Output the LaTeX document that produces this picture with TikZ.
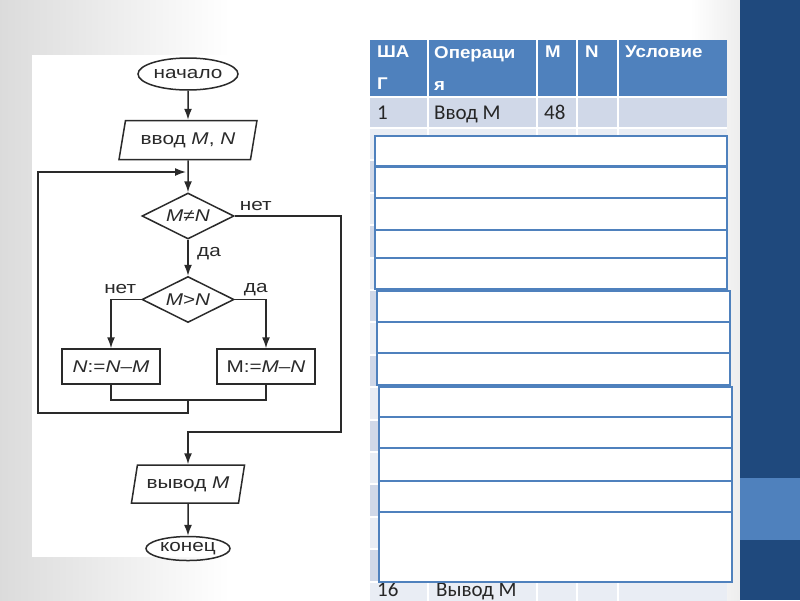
\documentclass[tikz,border=0pt]{standalone}
\usepackage{fontspec}
\setmainfont{Liberation Sans}
\newfontfamily\chartfont[FakeStretch=1.22]{Liberation Sans}
\newfontfamily\headfont[FakeStretch=1.1]{Liberation Sans}
\newfontfamily\tabfont{Carlito}
\usetikzlibrary{arrows.meta,positioning,shapes.geometric}
\definecolor{slideblue}{HTML}{1F497D}
\definecolor{accblue}{HTML}{4F81BD}
\definecolor{rowdark}{HTML}{D0D8E8}
\definecolor{rowlight}{HTML}{E9EDF4}
\definecolor{ink}{HTML}{2A2A2A}

\begin{document}
\begin{tikzpicture}[
      x=1pt,y=-1pt,
      >={Latex[length=11pt,width=8pt]},
      line/.style={draw=ink,line width=1.5pt},
      chart/.style={font=\chartfont\fontsize{17}{20}\selectfont,text=ink},
      term/.style={ellipse,line,chart,inner sep=0pt},
      io/.style={trapezium,trapezium left angle=72,trapezium right angle=108,
        trapezium stretches=true,line,chart,inner sep=0pt},
      cond/.style={diamond,aspect=2.2,line,chart,inner sep=0pt,minimum width=92pt,minimum height=46pt},
      proc/.style={rectangle,line,chart,inner sep=0pt,minimum width=98pt,minimum height=35pt},
      lbl/.style={chart,inner sep=0pt},
      hdr/.style={anchor=north west,inner sep=0pt,align=left,text=white,
        font=\headfont\bfseries\fontsize{17}{32}\selectfont},
      cell/.style={anchor=base west,inner sep=0pt,text=black!85,
        font=\tabfont\fontsize{21}{24}\selectfont},
      cover/.style={draw=accblue,fill=white,line width=1.2pt},
    ]
    \useasboundingbox (0,0) rectangle (800,600);
    % slide background
    \fill[white] (0,0) rectangle (800,600);
    \shade[left color=gray!28,right color=white] (0,0) rectangle (230,600);
    \shade[left color=white,right color=gray!14] (690,0) rectangle (740,600);
    \fill[slideblue] (740,0) rectangle (800,600);
    \fill[accblue] (740,478) rectangle (800,540);
    \fill[white] (32,55) rectangle (360,557);
    %
    % flowchart
    \node (start) [term,minimum width=100pt,minimum height=32pt] at (188,74) {начало};
    \node (in) [io,minimum width=138pt,minimum height=39pt,below=29pt of start]
      {ввод {\itshape M}, {\itshape N}};
    \node (dec1) [cond,below=32pt of in] {{\itshape M}≠{\itshape N}};
    \node (dec2) [cond,below=36pt of dec1] {{\itshape M}>{\itshape N}};
    \node (boxL) [proc,below=25pt of dec2,xshift=-77pt]
      {{\itshape N}:={\itshape N}–{\itshape M}};
    \node (boxR) [proc,below=25pt of dec2,xshift=78pt]
      {M:={\itshape M}–{\itshape N}};
    \node (out) [io,minimum width=114pt,minimum height=38pt,below=141pt of dec2]
      {вывод {\itshape M}};
    \node (end) [term,minimum width=84pt,minimum height=24pt,below=32pt of out] {конец};
    %
    \node (no1) [lbl,above right=5pt and 5pt of dec1.east] {нет};
    \node (yes1) [lbl,below right=7pt and 9pt of dec1.south] {да};
    \node (no2) [lbl,above left=6pt and 5pt of dec2.west] {нет};
    \node (yes2) [lbl,above right=3pt and 9pt of dec2.east] {да};
    %
    \coordinate (join) at (188,172);
    \coordinate (mrg) at (188,400);
    \coordinate (lpa) at (188,413);
    \coordinate (lpb) at (38,172);
    \coordinate (nb) at (341,432);
    %
    \draw[line,->] (start) -- (in);
    \draw[line,->] (in) -- (dec1);
    \draw[line,->] (dec1) -- (dec2);
    \draw[line,->] (dec2.west) -| (boxL.north);
    \draw[line,->] (dec2.east) -| (boxR.north);
    \draw[line] (boxL.south) |- (mrg) -| (boxR.south);
    \draw[line,->,shorten >=2pt] (mrg) -- (lpa) -| (lpb) -- (join);
    \draw[line,->] (dec1.east) -| (nb) -| (out.north);
    \draw[line,->] (out) -- (end);
    %
    % trace table
    \begin{scope}
      \clip (0,0) rectangle (800,600);
      \fill[accblue] (370,40) rectangle (727,97);
      \fill[rowdark] (370,97) rectangle (727,128);
      \foreach \r in {0,...,14} {
        \pgfmathsetmacro\ya{128+32.4*\r}
        \pgfmathsetmacro\yb{128+32.4*(\r+1)}
        \pgfmathparse{mod(\r,2)==0 ? "rowlight" : "rowdark"}
        \fill[\pgfmathresult] (370,\ya) rectangle (727,\yb);
        \draw[white,line width=2pt] (370,\ya) -- (727,\ya);
      }
      \draw[white,line width=2pt] (370,97) -- (727,97);
      \foreach \cx in {428,537,577,618}
        \draw[white,line width=2pt] (\cx,40) -- (\cx,620);
      %
      \node (hstep) [hdr] at (377,46) {ША\\Г};
      \node (hop) [hdr] at (434,46) {Операци\\я};
      \node (hm) [hdr] at (545,46) {M};
      \node (hn) [hdr] at (585,46) {N};
      \node (hcond) [hdr] at (625,46) {Условие};
      %
      \node (s1) [cell] at (377,119) {1};
      \node (op1) [cell] at (434,119) {Ввод M};
      \node (m1) [cell] at (544,119) {48};
      \node (s16) [cell] at (377,596) {16};
      \node (op16) [cell] at (436,596) {Вывод M};
    \end{scope}
    %
    % cover sheets
    \foreach \xa/\ya/\xb/\yb in {375/136/727/166,375/167/727/198,375/198/727/230,
        375/230/727/258,375/258/727/289,377/291/730/322,377/322/730/353,
        377/353/730/385,379/387/732/417,379/417/732/448,379/448/732/481,
        379/481/732/512,379/512/732/582}
      \draw[cover] (\xa,\ya) rectangle (\xb,\yb);
  \end{tikzpicture}
\end{document}
